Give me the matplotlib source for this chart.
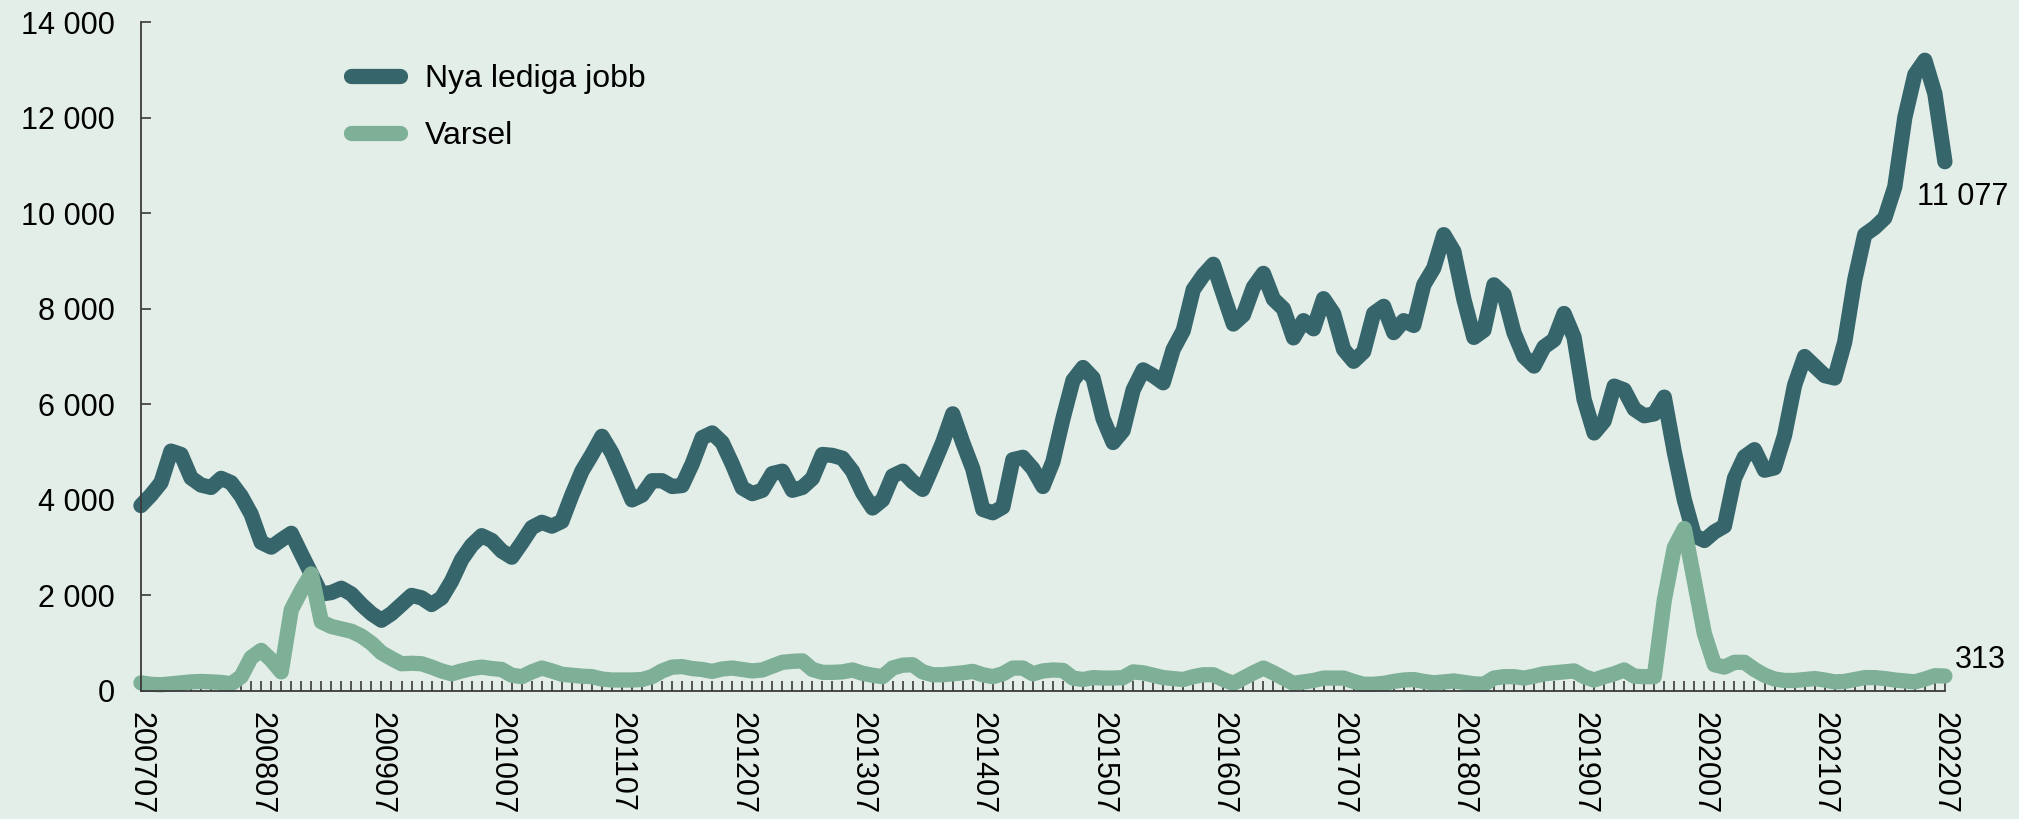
import matplotlib.pyplot as plt
import matplotlib.ticker as mticker
import numpy as np
import pandas as pd

# months 200707 .. 202207
months = pd.date_range('2007-07-01', '2022-07-01', freq='MS')
month_labels = [d.strftime('%Y%m') for d in months]

nya_lediga_jobb = [
    3880, 4100, 4360, 5020, 4950, 4460, 4310, 4260, 4450, 4360, 4080, 3700,
    3110, 3010, 3160, 3300, 2870, 2450, 2030, 2060, 2150, 2030, 1810, 1620,
    1480, 1620, 1810, 2000, 1950, 1810, 1950, 2300, 2750, 3050, 3250, 3150,
    2930, 2800, 3100, 3420, 3530, 3450, 3550, 4100, 4600, 4950, 5330, 4980,
    4500, 4000, 4100, 4400, 4400, 4280, 4300, 4750, 5300, 5400, 5200, 4750,
    4250, 4130, 4200, 4550, 4600, 4200, 4260, 4450, 4950, 4930, 4870, 4600,
    4150, 3830, 4000, 4500, 4600, 4380, 4220, 4700, 5200, 5800, 5200, 4650,
    3800, 3730, 3850, 4840, 4890, 4650, 4280, 4800, 5700, 6500, 6770, 6550,
    5700, 5200, 5450, 6300, 6720, 6600, 6450, 7150, 7540, 8400, 8700, 8930,
    8300, 7680, 7870, 8450, 8740, 8200, 8000, 7390, 7750, 7580, 8210, 7900,
    7150, 6900, 7100, 7900, 8050, 7500, 7750, 7650, 8500, 8850, 9550, 9200,
    8200, 7400, 7550, 8500, 8300, 7500, 7000, 6800, 7200, 7350, 7900, 7400,
    6100, 5400, 5650, 6380, 6300, 5900, 5760, 5800, 6150, 5000, 4000, 3250,
    3150, 3330, 3450, 4450, 4900, 5050, 4620, 4670, 5350, 6400, 7000, 6800,
    6600, 6550, 7300, 8600, 9550, 9700, 9900, 10550, 12000, 12900, 13200, 12500,
    11077,
]

varsel = [
    170, 140, 130, 150, 170, 190, 200, 190, 180, 150, 300, 700,
    850, 650, 400, 1700, 2100, 2450, 1450, 1350, 1300, 1250, 1150, 1000,
    800, 680, 570, 580, 570, 500, 420, 360, 420, 470, 500, 470,
    450, 330, 300, 400, 480, 420, 350, 330, 310, 300, 250, 230,
    230, 230, 240, 300, 420, 500, 510, 470, 450, 410, 460, 480,
    450, 420, 440, 520, 600, 620, 630, 450, 390, 390, 400, 440,
    370, 330, 300, 480, 540, 550, 400, 340, 340, 360, 380, 410,
    340, 300, 360, 480, 480, 360, 420, 440, 430, 270, 240, 280,
    270, 270, 280, 400, 380, 330, 280, 260, 240, 300, 340, 340,
    240, 160, 270, 380, 480, 380, 270, 160, 190, 220, 270, 270,
    270, 200, 140, 140, 160, 200, 230, 240, 200, 170, 190, 210,
    180, 150, 140, 270, 300, 300, 270, 310, 360, 380, 400, 420,
    300, 230, 300, 360, 440, 310, 300, 300, 1900, 3000, 3400, 2300,
    1200, 550, 500, 600, 600, 450, 330, 250, 220, 220, 240, 260,
    230, 190, 200, 240, 280, 280, 260, 230, 210, 190, 250, 320,
    313,
]

BG = '#e3eee8'
DARK = '#36656b'
LIGHT = '#7eb097'
AXIS = '#3a3a3a'

plt.rcParams['font.family'] = ['Liberation Sans', 'DejaVu Sans']

fig = plt.figure(figsize=(20.19, 8.19), dpi=100, facecolor=BG)
ax = fig.add_axes([0.0698, 0.1563, 0.8935, 0.8168])
ax.set_facecolor(BG)

x = np.arange(len(months))
ax.plot(x, nya_lediga_jobb, color=DARK, lw=11, solid_capstyle='round',
        solid_joinstyle='round', clip_on=False, label='Nya lediga jobb')
ax.plot(x, varsel, color=LIGHT, lw=11, solid_capstyle='round',
        solid_joinstyle='round', clip_on=False, label='Varsel')

ax.set_xlim(0, len(months) - 1)
ax.set_ylim(0, 14000)

ax.yaxis.set_major_locator(mticker.MultipleLocator(2000))
ax.yaxis.set_major_formatter(mticker.FuncFormatter(lambda v, p: f'{int(v):,}'.replace(',', ' ')))

ax.set_xticks(x[::12])
ax.set_xticklabels(month_labels[::12])
ax.set_xticks(x, minor=True)

for side in ('top', 'right'):
    ax.spines[side].set_visible(False)
for side in ('left', 'bottom'):
    ax.spines[side].set_color(AXIS)
    ax.spines[side].set_linewidth(1.3)

ax.tick_params(axis='y', which='major', direction='in', length=7, width=1.2,
               color=AXIS, labelsize=22, pad=19)
ax.tick_params(axis='x', which='both', direction='in', length=7, width=1.2,
               color=AXIS, labelsize=22, pad=15, labelrotation=270)

# end labels
ax.annotate(f'{nya_lediga_jobb[-1]:,}'.replace(',', ' '), xy=(x[-1], nya_lediga_jobb[-1]),
            xytext=(-20, -25.5), textcoords='offset points', ha='left', va='center', fontsize=22)
ax.annotate(f'{varsel[-1]}', xy=(x[-1], varsel[-1]),
            xytext=(7.5, 11.5), textcoords='offset points', ha='left', va='center', fontsize=22)

ax.legend(loc='upper left', bbox_to_anchor=(0.1167, 0.937), frameon=False, fontsize=23,
          handlelength=1.53, handletextpad=0.77, labelspacing=0.83, borderpad=0, borderaxespad=0)

fig.savefig('out.png', dpi=100, facecolor=BG)
